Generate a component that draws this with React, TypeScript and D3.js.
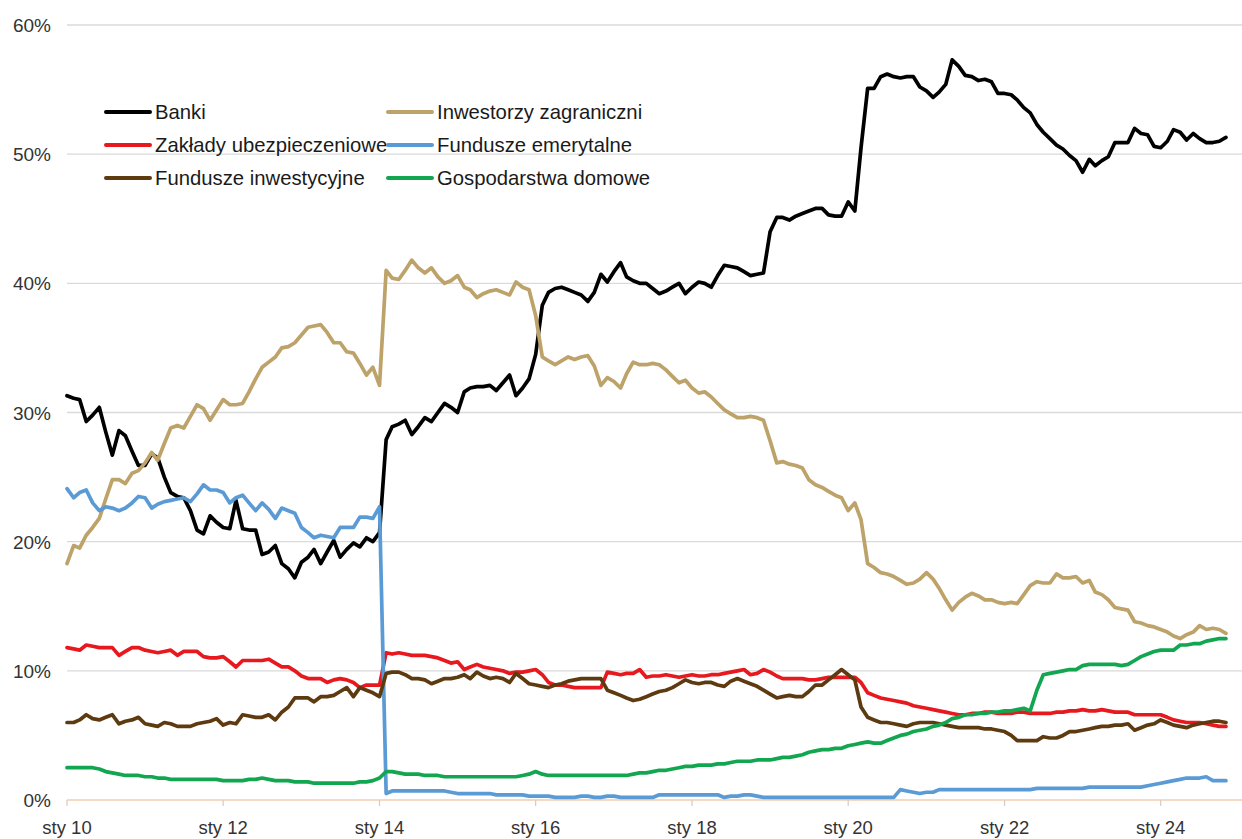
import React, { useMemo } from 'react'
import * as d3 from 'd3'

// monthly shares, Jan 2010 .. Nov 2024 (one row per year)
const banki = [
  31.3, 31.1, 31.0, 29.3, 29.8, 30.4, 28.5, 26.7, 28.6, 28.2, 27.0, 25.9,
  25.9, 26.8, 26.5, 25.0, 23.8, 23.5, 23.4, 22.4, 20.9, 20.6, 22.0, 21.5,
  21.1, 21.0, 23.2, 21.0, 20.9, 20.9, 19.0, 19.2, 19.7, 18.3, 17.9, 17.2,
  18.4, 18.8, 19.4, 18.3, 19.2, 20.1, 18.8, 19.4, 19.9, 19.6, 20.3, 20.0,
  20.7, 27.9, 28.9, 29.1, 29.4, 28.3, 28.9, 29.6, 29.3, 30.0, 30.7, 30.4,
  30.0, 31.6, 31.9, 32.0, 32.0, 32.1, 31.7, 32.3, 32.9, 31.3, 31.9, 32.6,
  34.5, 38.3, 39.3, 39.6, 39.7, 39.5, 39.3, 39.1, 38.6, 39.3, 40.7, 40.1,
  40.9, 41.6, 40.5, 40.2, 40.0, 40.0, 39.6, 39.2, 39.4, 39.7, 40.0, 39.2,
  39.7, 40.1, 40.0, 39.7, 40.6, 41.4, 41.3, 41.2, 40.9, 40.6, 40.7, 40.8,
  44.0, 45.1, 45.1, 44.9, 45.2, 45.4, 45.6, 45.8, 45.8, 45.3, 45.2, 45.2,
  46.3, 45.6, 50.5, 55.1, 55.1, 56.0, 56.2, 56.0, 55.9, 56.0, 56.0, 55.2,
  54.9, 54.4, 54.8, 55.4, 57.3, 56.8, 56.1, 56.0, 55.7, 55.8, 55.6, 54.7,
  54.7, 54.6, 54.2, 53.6, 53.2, 52.3, 51.7, 51.2, 50.7, 50.4, 49.9, 49.5,
  48.6, 49.6, 49.1, 49.5, 49.8, 50.9, 50.9, 50.9, 52.0, 51.6, 51.5, 50.6,
  50.5, 51.0, 51.9, 51.7, 51.1, 51.6, 51.2, 50.9, 50.9, 51.0, 51.3
]

const zagraniczni = [
  18.3, 19.7, 19.5, 20.5, 21.1, 21.8, 23.3, 24.8, 24.8, 24.5, 25.3, 25.5,
  26.1, 26.9, 26.3, 27.6, 28.8, 29.0, 28.8, 29.7, 30.6, 30.3, 29.4, 30.2,
  31.0, 30.6, 30.6, 30.7, 31.6, 32.6, 33.5, 33.9, 34.3, 35.0, 35.1, 35.4,
  36.0, 36.6, 36.7, 36.8, 36.2, 35.4, 35.4, 34.7, 34.6, 33.8, 32.9, 33.5,
  32.1, 41.0, 40.4, 40.3, 41.0, 41.8, 41.2, 40.8, 41.2, 40.5, 40.0, 40.2,
  40.6, 39.7, 39.5, 38.9, 39.2, 39.4, 39.5, 39.3, 39.1, 40.1, 39.7, 39.5,
  37.5, 34.3, 34.0, 33.7, 34.0, 34.3, 34.1, 34.3, 34.4, 33.6, 32.1, 32.7,
  32.4, 31.9, 33.0, 33.9, 33.7, 33.7, 33.8, 33.7, 33.3, 32.8, 32.3, 32.5,
  31.9, 31.5, 31.6, 31.2, 30.7, 30.2, 29.9, 29.6, 29.6, 29.7, 29.6, 29.4,
  27.8, 26.1, 26.2, 26.0, 25.9, 25.7, 24.8, 24.4, 24.2, 23.9, 23.6, 23.4,
  22.4, 23.0, 21.7, 18.3, 18.0, 17.6, 17.5, 17.3, 17.0, 16.7, 16.8, 17.1,
  17.6, 17.1, 16.4, 15.5, 14.7, 15.3, 15.7, 16.0, 15.8, 15.5, 15.5, 15.3,
  15.2, 15.3, 15.2, 15.9, 16.6, 16.9, 16.8, 16.8, 17.5, 17.2, 17.2, 17.3,
  16.8, 17.0, 16.1, 15.9, 15.5, 14.9, 14.8, 14.7, 13.8, 13.7, 13.5, 13.4,
  13.2, 13.0, 12.7, 12.5, 12.8, 13.0, 13.5, 13.2, 13.3, 13.2, 12.9
]

const ubezpieczeniowe = [
  11.8, 11.7, 11.6, 12.0, 11.9, 11.8, 11.8, 11.8, 11.2, 11.5, 11.8, 11.8,
  11.6, 11.5, 11.4, 11.5, 11.6, 11.2, 11.5, 11.5, 11.5, 11.1, 11.0, 11.0,
  11.1, 10.7, 10.3, 10.8, 10.8, 10.8, 10.8, 10.9, 10.6, 10.3, 10.3, 10.0,
  9.6, 9.4, 9.4, 9.4, 9.1, 9.3, 9.4, 9.3, 9.1, 8.7, 8.9, 8.9,
  8.9, 11.4, 11.3, 11.4, 11.3, 11.2, 11.2, 11.2, 11.1, 11.0, 10.8, 10.6,
  10.7, 10.1, 10.3, 10.5, 10.3, 10.2, 10.1, 10.0, 9.8, 9.9, 9.9, 10.0,
  10.1, 9.7, 9.1, 8.9, 8.9, 8.8, 8.7, 8.7, 8.7, 8.7, 8.7, 9.9,
  9.8, 9.7, 9.8, 9.8, 10.1, 9.5, 9.6, 9.6, 9.7, 9.6, 9.5, 9.6,
  9.7, 9.6, 9.6, 9.7, 9.7, 9.8, 9.9, 10.0, 10.1, 9.7, 9.8, 10.1,
  9.9, 9.6, 9.4, 9.4, 9.4, 9.4, 9.3, 9.3, 9.4, 9.5, 9.5, 9.5,
  9.5, 9.5, 9.1, 8.3, 8.1, 7.9, 7.8, 7.7, 7.6, 7.5, 7.3, 7.2,
  7.1, 7.0, 6.9, 6.8, 6.7, 6.6, 6.6, 6.7, 6.7, 6.8, 6.8, 6.7,
  6.7, 6.7, 6.8, 6.8, 6.7, 6.7, 6.7, 6.7, 6.8, 6.8, 6.9, 6.9,
  7.0, 6.9, 6.9, 7.0, 6.9, 6.8, 6.8, 6.8, 6.6, 6.6, 6.6, 6.6,
  6.6, 6.4, 6.2, 6.1, 6.0, 6.0, 6.0, 5.9, 5.8, 5.7, 5.7
]

const emerytalne = [
  24.1, 23.4, 23.8, 24.0, 23.0, 22.4, 22.7, 22.6, 22.4, 22.6, 23.0, 23.5,
  23.4, 22.6, 22.9, 23.1, 23.2, 23.3, 23.4, 23.1, 23.7, 24.4, 24.0, 24.0,
  23.8, 23.0, 23.4, 23.6, 23.0, 22.4, 23.0, 22.5, 21.8, 22.6, 22.4, 22.2,
  21.1, 20.7, 20.3, 20.5, 20.4, 20.3, 21.1, 21.1, 21.1, 21.9, 21.9, 21.8,
  22.7, 0.5, 0.7, 0.7, 0.7, 0.7, 0.7, 0.7, 0.7, 0.7, 0.7, 0.6,
  0.5, 0.5, 0.5, 0.5, 0.5, 0.5, 0.4, 0.4, 0.4, 0.4, 0.4, 0.3,
  0.3, 0.3, 0.3, 0.2, 0.2, 0.2, 0.2, 0.3, 0.3, 0.2, 0.2, 0.3,
  0.3, 0.2, 0.2, 0.2, 0.2, 0.2, 0.2, 0.4, 0.4, 0.4, 0.4, 0.4,
  0.4, 0.4, 0.4, 0.4, 0.4, 0.2, 0.3, 0.3, 0.4, 0.4, 0.3, 0.2,
  0.2, 0.2, 0.2, 0.2, 0.2, 0.2, 0.2, 0.2, 0.2, 0.2, 0.2, 0.2,
  0.2, 0.2, 0.2, 0.2, 0.2, 0.2, 0.2, 0.2, 0.8, 0.7, 0.6, 0.5,
  0.6, 0.6, 0.8, 0.8, 0.8, 0.8, 0.8, 0.8, 0.8, 0.8, 0.8, 0.8,
  0.8, 0.8, 0.8, 0.8, 0.8, 0.9, 0.9, 0.9, 0.9, 0.9, 0.9, 0.9,
  0.9, 1.0, 1.0, 1.0, 1.0, 1.0, 1.0, 1.0, 1.0, 1.0, 1.1, 1.2,
  1.3, 1.4, 1.5, 1.6, 1.7, 1.7, 1.7, 1.8, 1.5, 1.5, 1.5
]

const inwestycyjne = [
  6.0, 6.0, 6.2, 6.6, 6.3, 6.2, 6.4, 6.6, 5.9, 6.1, 6.2, 6.4,
  5.9, 5.8, 5.7, 6.0, 5.9, 5.7, 5.7, 5.7, 5.9, 6.0, 6.1, 6.3,
  5.8, 6.0, 5.9, 6.6, 6.5, 6.4, 6.4, 6.6, 6.2, 6.8, 7.2, 7.9,
  7.9, 7.9, 7.6, 8.0, 8.0, 8.1, 8.4, 8.7, 8.0, 8.7, 8.5, 8.3,
  8.0, 9.8, 9.9, 9.9, 9.7, 9.4, 9.4, 9.3, 9.0, 9.2, 9.4, 9.4,
  9.5, 9.7, 9.4, 9.9, 9.6, 9.4, 9.5, 9.4, 9.1, 9.8, 9.4, 9.0,
  8.9, 8.8, 8.7, 8.9, 9.0, 9.2, 9.3, 9.4, 9.4, 9.4, 9.4, 8.5,
  8.3, 8.1, 7.9, 7.7, 7.8, 8.0, 8.2, 8.4, 8.5, 8.7, 9.0, 9.3,
  9.1, 9.0, 9.1, 9.1, 8.9, 8.8, 9.2, 9.4, 9.2, 9.0, 8.8, 8.5,
  8.2, 7.9, 8.0, 8.1, 8.0, 8.0, 8.4, 8.9, 8.9, 9.3, 9.7, 10.1,
  9.7, 9.3, 7.2, 6.4, 6.2, 6.0, 6.0, 5.9, 5.8, 5.7, 5.9, 6.0,
  6.0, 6.0, 5.9, 5.8, 5.7, 5.6, 5.6, 5.6, 5.6, 5.5, 5.5, 5.4,
  5.3, 5.0, 4.6, 4.6, 4.6, 4.6, 4.9, 4.8, 4.8, 5.0, 5.3, 5.3,
  5.4, 5.5, 5.6, 5.7, 5.7, 5.8, 5.8, 5.9, 5.4, 5.6, 5.8, 5.9,
  6.2, 6.0, 5.8, 5.7, 5.6, 5.8, 5.9, 6.0, 6.1, 6.1, 6.0
]

const domowe = [
  2.5, 2.5, 2.5, 2.5, 2.5, 2.4, 2.2, 2.1, 2.0, 1.9, 1.9, 1.9,
  1.8, 1.8, 1.7, 1.7, 1.6, 1.6, 1.6, 1.6, 1.6, 1.6, 1.6, 1.6,
  1.5, 1.5, 1.5, 1.5, 1.6, 1.6, 1.7, 1.6, 1.5, 1.5, 1.5, 1.4,
  1.4, 1.4, 1.3, 1.3, 1.3, 1.3, 1.3, 1.3, 1.3, 1.4, 1.4, 1.5,
  1.7, 2.2, 2.2, 2.1, 2.0, 2.0, 2.0, 1.9, 1.9, 1.9, 1.8, 1.8,
  1.8, 1.8, 1.8, 1.8, 1.8, 1.8, 1.8, 1.8, 1.8, 1.8, 1.9, 2.0,
  2.2, 2.0, 1.9, 1.9, 1.9, 1.9, 1.9, 1.9, 1.9, 1.9, 1.9, 1.9,
  1.9, 1.9, 1.9, 2.0, 2.1, 2.1, 2.2, 2.3, 2.3, 2.4, 2.5, 2.6,
  2.6, 2.7, 2.7, 2.7, 2.8, 2.8, 2.9, 3.0, 3.0, 3.0, 3.1, 3.1,
  3.1, 3.2, 3.3, 3.3, 3.4, 3.5, 3.7, 3.8, 3.9, 3.9, 4.0, 4.0,
  4.2, 4.3, 4.4, 4.5, 4.4, 4.4, 4.6, 4.8, 5.0, 5.1, 5.3, 5.4,
  5.5, 5.7, 5.8, 6.0, 6.3, 6.4, 6.6, 6.6, 6.7, 6.7, 6.8, 6.8,
  6.9, 6.9, 7.0, 7.1, 6.9, 8.5, 9.7, 9.8, 9.9, 10.0, 10.1, 10.1,
  10.4, 10.5, 10.5, 10.5, 10.5, 10.5, 10.4, 10.5, 10.8, 11.1, 11.3, 11.5,
  11.6, 11.6, 11.6, 12.0, 12.0, 12.1, 12.1, 12.3, 12.4, 12.5, 12.5
]

const yTicks = [0, 10, 20, 30, 40, 50, 60]
const tickYears = [2010, 2012, 2014, 2016, 2018, 2020, 2022, 2024]

// drawing order follows the series order of the legend (later on top)
const series = [
  { name: 'Banki', color: '#000000', values: banki },
  { name: 'Inwestorzy zagraniczni', color: '#BDA269', values: zagraniczni },
  { name: 'Zakłady ubezpieczeniowe', color: '#E8191E', values: ubezpieczeniowe },
  { name: 'Fundusze emerytalne', color: '#5B9BD5', values: emerytalne },
  { name: 'Fundusze inwestycyjne', color: '#5E3A10', values: inwestycyjne },
  { name: 'Gospodarstwa domowe', color: '#12A650', values: domowe }
]

const W = 1242
const H = 839
const FONT = '"Liberation Sans", Arial, sans-serif'

export default function App() {
  const x = useMemo(() => d3.scaleTime()
    .domain([new Date(2010, 0, 1), new Date(2025, 0, 1)])
    .range([67, 1239]), [])
  const y = useMemo(() => d3.scaleLinear().domain([0, 60]).range([800, 25]), [])

  const line = d3.line<number>()
    .x((_, i) => x(new Date(2010, i, 1)))
    .y(d => y(d))

  return (
    <svg width={W} height={H} style={{ position: 'absolute', left: 0, top: 0, background: '#fff' }}
      fontFamily={FONT}>
      {/* grid */}
      {yTicks.filter(t => t > 0).map(t => (
        <line key={t} x1={67} x2={1242} y1={y(t)} y2={y(t)} stroke="#dadada" strokeWidth={1.3} />
      ))}
      {yTicks.map(t => (
        <text key={'yl' + t} x={51} y={y(t) + 7} fontSize={19} fill="#333" textAnchor="end">{t}%</text>
      ))}

      {/* x axis */}
      <line x1={67} x2={1242} y1={y(0)} y2={y(0)} stroke="#f1cdb0" strokeWidth={1.3} />
      {tickYears.map(yr => {
        const tx = x(new Date(yr, 0, 1))
        return (
          <g key={yr}>
            <line x1={tx} x2={tx} y1={y(0)} y2={y(0) + 6} stroke="#d9c9bd" strokeWidth={1.2} />
            <text x={tx} y={834} fontSize={18.5} fill="#333" textAnchor="middle">sty {String(yr).slice(2)}</text>
          </g>
        )
      })}

      {/* series */}
      {series.map(s => (
        <path key={s.name} d={line(s.values) || ''} fill="none" stroke={s.color}
          strokeWidth={3.7} strokeLinejoin="round" strokeLinecap="round" />
      ))}

      {/* legend, two columns, row-major */}
      {series.map((s, i) => {
        const col = i % 2
        const row = Math.floor(i / 2)
        const lx = col === 0 ? 106 : 388
        const ly = 112 + row * 33
        return (
          <g key={'lg' + s.name}>
            <line x1={lx} x2={lx + 44} y1={ly} y2={ly} stroke={s.color} strokeWidth={4} strokeLinecap="round" />
            <text x={lx + 49} y={ly + 7} fontSize={20.3} fill="#1a1a1a">{s.name}</text>
          </g>
        )
      })}
    </svg>
  )
}
